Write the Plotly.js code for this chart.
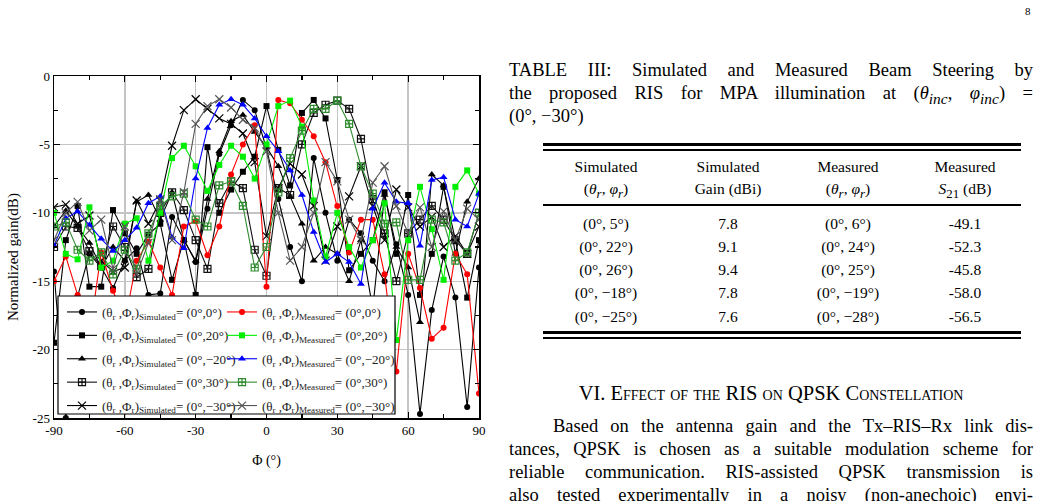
<!DOCTYPE html>
<html>
<head>
<meta charset="utf-8">
<script src="https://cdn.plot.ly/plotly-3.0.1.min.js"></script>
<style>
  html, body { margin: 0; padding: 0; background: #fff; }
  body { width: 1041px; height: 501px; position: relative; overflow: hidden;
         font-family: "Liberation Serif", "DejaVu Serif", serif; color: #000; }
  #chart { position: absolute; left: 0; top: 0; width: 500px; height: 501px; }
  .ln { position: absolute; left: 509px; width: 524px; font-size: 18.5px; line-height: 23px;
        text-align: justify; text-align-last: justify; white-space: nowrap; }
  .ln.last { text-align-last: left; }
  .rule { position: absolute; left: 543px; width: 478px; background: #000; }
  .cell { position: absolute; width: 130px; text-align: center; font-size: 15.5px; line-height: 21px; }
  .pg { position: absolute; left: 1025px; top: 5px; font-size: 11px; }
  .sc { font-variant: small-caps; }
</style>
</head>
<body>
<div id="chart"></div>
<div class="pg">8</div>

<div id="side"></div>

<script>
// Azimuth sweep, 5° steps
const phi = [-90,-85,-80,-75,-70,-65,-60,-55,-50,-45,-40,-35,-30,-25,-20,-15,-10,-5,0,5,10,15,20,25,30,35,40,45,50,55,60,65,70,75,80,85,90];

// Normalized gain (dB), simulated and measured, per steering state
const simPhi0   = [-14.3,-25,-16.1,-13,-14,-15.5,-13.5,-12.6,-16,-15.9,-10.3,-12,-13.6,-9.7,-5.7,-3.6,-1.75,-2.5,-5.3,-9,-12.5,-15,-6,-10,-13.5,-10.5,-11.5,-13.5,-15,-12.3,-16,-24.7,-17.1,-13.2,-16.2,-24.2,-14];
const measPhi0  = [-15,-13.2,-16,-19,-12.9,-15.7,-18,-13.5,-12.1,-14,-16,-11,-10.6,-13.1,-11,-7.2,-5,-3.6,-15.4,-1.75,-2,-3.2,-4.4,-6.3,-9.5,-12.9,-10.5,-10.5,-14.5,-21.6,-13,-15.5,-19.2,-18.4,-13,-14.5,-23.2];
const simPhi20  = [-19.5,-12,-9.5,-15.4,-15.4,-9.8,-11.5,-13,-11.6,-10.8,-14.9,-12,-16,-5.2,-10,-8.3,-7,-5.9,-2.2,-5.4,-8,-2.7,-1.75,-3.1,-7.6,-14.2,-13,-12,-8.5,-13,-8.7,-16,-13,-8.1,-12,-16.2,-12];
const measPhi20 = [-10,-13,-13.4,-9.6,-14,-13.5,-10.8,-10.4,-13.5,-10,-6,-5.1,-6.6,-8.4,-6.5,-5.1,-5.9,-7.5,-5,-2.2,-1.8,-3.7,-9.1,-13.2,-10,-12.5,-14,-12,-9.3,-19.3,-12,-8.1,-11.2,-14.9,-8.1,-6.9,-8.6];
const simPhiM20 = [-11,-9.85,-11,-12.2,-14,-12.5,-13.5,-9.2,-8.7,-10.5,-8.5,-12,-13.5,-9,-5.5,-3.3,-2.85,-4.1,-5.2,-6.6,-8.8,-10.8,-13.5,-12.5,-13,-15,-12,-17,-8.7,-12.5,-14,-18,-7.2,-8,-13,-9.2,-7.5];
const measPhiM20= [-12.4,-10.4,-9.9,-10.9,-11.9,-12.8,-12,-11.1,-9.3,-8.8,-11.8,-12.6,-7.5,-3.8,-2.1,-1.7,-2.1,-3.1,-4.4,-5.5,-6.9,-8.7,-11.4,-13.6,-13,-13.6,-15.2,-9.7,-7.8,-9.2,-9.3,-12.4,-7.6,-7.4,-10.5,-11,-8.6];
const simPhi30  = [-12.5,-11,-11.1,-12.8,-13.9,-11,-12.5,-14.7,-14.1,-10,-8.5,-9.8,-12,-14.1,-9.3,-7.7,-8.2,-12.7,-14.6,-8.2,-8.7,-5,-2.7,-2.1,-1.8,-2.4,-4.6,-9,-11.5,-15,-11.5,-10.5,-9.5,-10.5,-12,-13,-10];
const measPhi30 = [-11,-10.7,-12.7,-13.5,-12.9,-14.5,-12.7,-14.1,-11.5,-9.5,-8.8,-8.6,-10.5,-11,-8,-7.7,-9.5,-14,-12.5,-8.5,-6,-4,-2.4,-2.4,-1.8,-3.5,-6.6,-8.6,-10.8,-10.7,-14.9,-14.9,-10.5,-10.7,-13.5,-12.9,-10];
const simPhiM30 = [-9.6,-9.4,-10.8,-10.2,-13.5,-14.3,-14,-9.1,-10.8,-9.1,-5.1,-2.5,-1.7,-2.4,-3.1,-3.5,-4.2,-6.3,-11.7,-8.2,-6.4,-7.2,-9.5,-13.5,-11,-8.8,-6.6,-9.5,-12,-8.3,-9.6,-11,-10.3,-12.5,-11.7,-13,-11];
const measPhiM30= [-12,-10,-9.2,-11.3,-10.5,-14.1,-11,-14.5,-12.2,-9,-12,-8.5,-3.5,-2.2,-1.7,-2.3,-3.2,-3.8,-5.5,-10,-13.5,-12.5,-10,-6.3,-7.7,-10.5,-12,-7.8,-6.6,-9.5,-11.5,-9.6,-12.5,-9.9,-12,-9.7,-10.5];

const stateLabels = ['(0°,0°)', '(0°,20°)', '(0°,−20°)', '(0°,30°)', '(0°,−30°)'];
const xTicks = [-90, -60, -30, 0, 30, 60, 90];
const xTickText = ['-90', '-60', '-30', '0', '30', '60', '90'];
const yTicks = [0, -5, -10, -15, -20, -25];
const yTickText = ['0', '-5', '-10', '-15', '-20', '-25'];

const serif = 'Liberation Serif, Times New Roman, serif';

function lbl(kind, state) {
  return '(θ<sub>r</sub> ,Φ<sub>r</sub>)<sub>' + kind + '</sub>= ' + state;
}

let groupId = 0;
function tr(y, name, color, symbol, legend, size) {
  const open = symbol.indexOf('open') >= 0;
  groupId += 1;
  return {
    x: phi, y: y, name: name, type: 'scatter', mode: 'lines+markers',
    legend: legend, legendgroup: 'g' + groupId, cliponaxis: true,
    line: { color: color, width: 1.1 },
    marker: { symbol: symbol, size: size || 6, color: color,
              line: { color: color, width: open ? 1.2 : 0 } }
  };
}

const traces = [
  tr(simPhi0,   lbl('Simulated', stateLabels[0]), '#000000', 'circle', 'legend', 6),
  tr(simPhi20,  lbl('Simulated', stateLabels[1]), '#000000', 'square', 'legend', 6),
  tr(simPhiM20, lbl('Simulated', stateLabels[2]), '#000000', 'triangle-up', 'legend', 7),
  tr(simPhi30,  lbl('Simulated', stateLabels[3]), '#111111', 'square-cross-open', 'legend', 7),
  tr(simPhiM30, lbl('Simulated', stateLabels[4]), '#000000', 'x-thin-open', 'legend', 8),
  tr(measPhi0,  lbl('Measured', stateLabels[0]),  '#ff0000', 'circle', 'legend2', 6),
  tr(measPhi20, lbl('Measured', stateLabels[1]),  '#00ee00', 'square', 'legend2', 6),
  tr(measPhiM20,lbl('Measured', stateLabels[2]),  '#0000ff', 'triangle-up', 'legend2', 7),
  tr(measPhi30, lbl('Measured', stateLabels[3]),  '#2e8b2e', 'square-cross-open', 'legend2', 7),
  tr(measPhiM30,lbl('Measured', stateLabels[4]),  '#555555', 'x-thin-open', 'legend2', 8)
];

// legend frame in pixel terms of the plot area (54..479 x, 76..418 y)
const px = v => (v - 54) / 425;
const py = v => (418 - v) / 342;

const legendFont = { family: serif, size: 13, color: '#222' };

const layout = {
  width: 500, height: 501,
  margin: { l: 54, r: 21, t: 76, b: 83 },
  paper_bgcolor: '#fff', plot_bgcolor: '#fff',
  font: { family: serif, size: 13, color: '#000' },
  showlegend: true,
  xaxis: {
    range: [-90, 90], tickvals: xTicks, ticktext: xTickText,
    ticks: 'inside', ticklen: 6, tickwidth: 1.2, tickcolor: '#000',
    minor: { dtick: 15, ticks: 'inside', ticklen: 4, tickcolor: '#000', showgrid: false },
    showgrid: true, gridcolor: '#c4c4c4', gridwidth: 1.4,
    showline: true, linecolor: '#000', linewidth: 1.5, mirror: 'allticks',
    zeroline: false, tickfont: { family: serif, size: 13 },
    title: { text: 'Φ (°)', font: { family: serif, size: 14 }, standoff: 18 }
  },
  yaxis: {
    range: [-25, 0], tickvals: yTicks, ticktext: yTickText,
    ticks: 'inside', ticklen: 6, tickwidth: 1.2, tickcolor: '#000',
    minor: { dtick: 2.5, ticks: 'inside', ticklen: 4, tickcolor: '#000', showgrid: false },
    showgrid: true, gridcolor: '#c4c4c4', gridwidth: 1.4,
    showline: true, linecolor: '#000', linewidth: 1.5, mirror: 'allticks',
    zeroline: false, tickfont: { family: serif, size: 13 }
  },
  annotations: [{
    text: 'Normalized gain(dB)', xref: 'paper', yref: 'paper',
    x: px(13), y: py(257), xanchor: 'center', yanchor: 'middle',
    textangle: -90, showarrow: false, font: { family: serif, size: 15, color: '#000' }
  }],
  shapes: [{
    type: 'rect', xref: 'paper', yref: 'paper', layer: 'above',
    x0: px(58), x1: px(395), y0: py(414), y1: py(296),
    fillcolor: '#ffffff', line: { color: '#000', width: 1.2 }
  }],
  legend: {
    x: px(62), y: py(297), xanchor: 'left', yanchor: 'top',
    bgcolor: 'rgba(0,0,0,0)', borderwidth: 0, font: legendFont,
    tracegroupgap: 3.5, itemwidth: 30
  },
  legend2: {
    x: px(222), y: py(297), xanchor: 'left', yanchor: 'top',
    bgcolor: 'rgba(0,0,0,0)', borderwidth: 0, font: legendFont,
    tracegroupgap: 3.5, itemwidth: 30
  }
};

Plotly.newPlot('chart', traces, layout, { displayModeBar: false, staticPlot: true });

// Right-hand column: table caption, table, section text
const side = document.getElementById('side');
const theta = '<i>θ</i>', phiI = '<i>φ</i>';
const tableCols = [606, 728, 848, 965];
const headers = [
  ['Simulated', '(' + theta + '<sub><i>r</i></sub>, ' + phiI + '<sub><i>r</i></sub>)'],
  ['Simulated', 'Gain (dBi)'],
  ['Measured', '(' + theta + '<sub><i>r</i></sub>, ' + phiI + '<sub><i>r</i></sub>)'],
  ['Measured', '<i>S</i><sub>21</sub> (dB)']
];
const simAngles = ['(0°, 5°)', '(0°, 22°)', '(0°, 26°)', '(0°, −18°)', '(0°, −25°)'];
const simGain = ['7.8', '9.1', '9.4', '7.8', '7.6'];
const measAngles = ['(0°, 6°)', '(0°, 24°)', '(0°, 25°)', '(0°, −19°)', '(0°, −28°)'];
const measS21 = ['-49.1', '-52.3', '-45.8', '-58.0', '-56.5'];

let html = '';
html += '<div class="ln" style="top:59px">TABLE III: Simulated and Measured Beam Steering by</div>';
html += '<div class="ln" style="top:82px">the proposed RIS for MPA illumination at (' + theta + '<sub><i>inc</i></sub>, ' + phiI + '<sub><i>inc</i></sub>) =</div>';
html += '<div class="ln last" style="top:105px">(0°, −30°)</div>';
html += '<div class="rule" style="top:143px;height:3px"></div>';
html += '<div class="rule" style="top:149px;height:1.5px"></div>';
html += '<div class="rule" style="top:204px;height:2px"></div>';
html += '<div class="rule" style="top:331px;height:3px"></div>';
html += '<div class="rule" style="top:337px;height:1.5px"></div>';
headers.forEach((h, i) => {
  html += '<div class="cell" style="left:' + (tableCols[i] - 65) + 'px;top:156px">' + h[0] + '</div>';
  html += '<div class="cell" style="left:' + (tableCols[i] - 65) + 'px;top:178px">' + h[1] + '</div>';
});
const rowsTop = [213, 236, 259, 282, 306];
simAngles.forEach((a, r) => {
  const vals = [a, simGain[r], measAngles[r], measS21[r]];
  vals.forEach((v, i) => {
    html += '<div class="cell" style="left:' + (tableCols[i] - 65) + 'px;top:' + rowsTop[r] + 'px">' + v + '</div>';
  });
});
html += '<div style="position:absolute;left:509px;width:524px;top:382px;font-size:20.5px;line-height:23px;text-align:center">VI. E<span class="sc">ffect of the</span> RIS <span class="sc">on</span> QPSK C<span class="sc">onstellation</span></div>';
html += '<div class="ln" style="top:415px;left:553px;width:480px">Based on the antenna gain and the Tx–RIS–Rx link dis-</div>';
html += '<div class="ln" style="top:438px">tances, QPSK is chosen as a suitable modulation scheme for</div>';
html += '<div class="ln" style="top:461px">reliable communication. RIS-assisted QPSK transmission is</div>';
html += '<div class="ln" style="top:484px">also tested experimentally in a noisy (non-anechoic) envi-</div>';
side.innerHTML = html;
</script>
</body>
</html>
